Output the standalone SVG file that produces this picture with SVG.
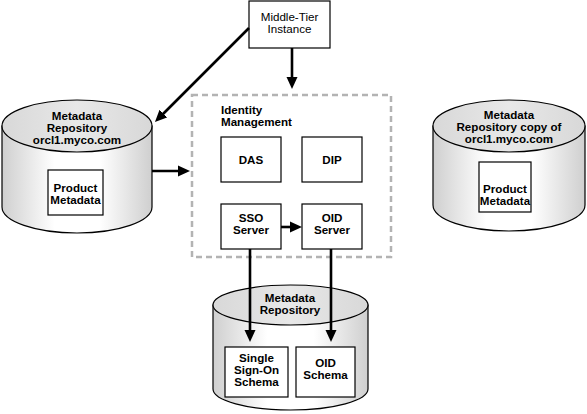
<svg xmlns="http://www.w3.org/2000/svg" width="587" height="414" viewBox="0 0 587 414">
<style>
text{font-family:"Liberation Sans",Arial,sans-serif;font-size:11.6px;fill:#000}
.b{font-weight:bold}
.c{text-anchor:middle}
.box{fill:#fff;stroke:#000;stroke-width:1.2}
.top{fill:url(#tg);stroke:#000;stroke-width:1.2}
.body{fill:url(#bg);stroke:#000;stroke-width:1.2}
.conn{fill:none;stroke:#000;stroke-width:2.6}
.dash{fill:none;stroke:#b3b3b3;stroke-width:2.5;stroke-dasharray:6 4}
</style>
<defs>
<linearGradient id="bg" x1="0" y1="0" x2="1" y2="0">
<stop offset="0" stop-color="#cfcfcf"/>
<stop offset="0.35" stop-color="#ffffff"/>
<stop offset="0.65" stop-color="#ffffff"/>
<stop offset="1" stop-color="#cfcfcf"/>
</linearGradient>
<linearGradient id="tg" x1="0" y1="0" x2="1" y2="0">
<stop offset="0" stop-color="#d8d8d8"/>
<stop offset="0.5" stop-color="#e8e8e8"/>
<stop offset="1" stop-color="#d8d8d8"/>
</linearGradient>
<marker id="ah" markerUnits="userSpaceOnUse" markerWidth="12" markerHeight="12" viewBox="0 0 12 12" refX="7" refY="6" orient="auto">
<path d="M0,0.5 L12,6 L0,11.5 Z" fill="#000"/>
</marker>
</defs>

<g id="identity-management">
<rect class="dash" x="192" y="95" width="199" height="162"/>
<text class="b" x="221" y="114">Identity</text>
<text class="b" x="221" y="126">Management</text>
</g>

<g id="middle-tier">
<rect class="box" x="249" y="1" width="81" height="47"/>
<text class="c" x="289.5" y="21">Middle-Tier</text>
<text class="c" x="289.5" y="33">Instance</text>
</g>

<g id="repo-left">
<path class="body" d="M2,126 L2,207 A75,26 0 0 0 152,207 L152,126 Z"/>
<ellipse class="top" cx="77" cy="126" rx="75" ry="26"/>
<text class="b c" x="77" y="120">Metadata</text>
<text class="b c" x="77" y="132">Repository</text>
<text class="b c" x="77" y="144">orcl1.myco.com</text>
<rect class="box" x="48" y="170" width="55" height="45"/>
<text class="b c" x="75.5" y="192">Product</text>
<text class="b c" x="75.5" y="204">Metadata</text>
</g>

<g id="repo-right">
<path class="body" d="M433,126 L433,205 A76,26 0 0 0 585,205 L585,126 Z"/>
<ellipse class="top" cx="509" cy="126" rx="76" ry="26"/>
<text class="b c" x="509" y="119">Metadata</text>
<text class="b c" x="509" y="131">Repository copy of</text>
<text class="b c" x="509" y="143">orcl1.myco.com</text>
<rect class="box" x="479" y="162" width="52" height="50"/>
<text class="b c" x="505" y="193">Product</text>
<text class="b c" x="505" y="205">Metadata</text>
</g>

<g id="das">
<rect class="box" x="221" y="137" width="60" height="45"/>
<text class="b c" x="251" y="163.5">DAS</text>
</g>
<g id="dip">
<rect class="box" x="302" y="137" width="60" height="45"/>
<text class="b c" x="332" y="163.5">DIP</text>
</g>
<g id="sso-server">
<rect class="box" x="221" y="204" width="60" height="45"/>
<text class="b c" x="251" y="222">SSO</text>
<text class="b c" x="251" y="234">Server</text>
</g>
<g id="oid-server">
<rect class="box" x="302" y="204" width="60" height="45"/>
<text class="b c" x="332" y="222">OID</text>
<text class="b c" x="332" y="234">Server</text>
</g>

<g id="repo-bottom">
<path class="body" d="M213,305 L213,389 A77.5,21 0 0 0 368,389 L368,305 Z"/>
<ellipse class="top" cx="290.5" cy="305" rx="77.5" ry="20"/>
<text class="b c" x="290" y="302">Metadata</text>
<text class="b c" x="290" y="314">Repository</text>
<rect class="box" x="225" y="347" width="63" height="50"/>
<text class="b c" x="256.5" y="362">Single</text>
<text class="b c" x="256.5" y="374">Sign-On</text>
<text class="b c" x="256.5" y="386">Schema</text>
<rect class="box" x="296" y="347" width="59" height="50"/>
<text class="b c" x="325.5" y="367">OID</text>
<text class="b c" x="325.5" y="379">Schema</text>
</g>

<g id="connectors">
<path class="conn" d="M292,48 L292,84" marker-end="url(#ah)"/>
<path class="conn" d="M249,28 L158.5,118.5" marker-end="url(#ah)"/>
<path class="conn" d="M152,171 L185,171" marker-end="url(#ah)"/>
<path class="conn" d="M281,227 L297,227" marker-end="url(#ah)"/>
<path class="conn" d="M250,249 L250,337" marker-end="url(#ah)"/>
<path class="conn" d="M331,249 L331,337" marker-end="url(#ah)"/>
</g>
</svg>
